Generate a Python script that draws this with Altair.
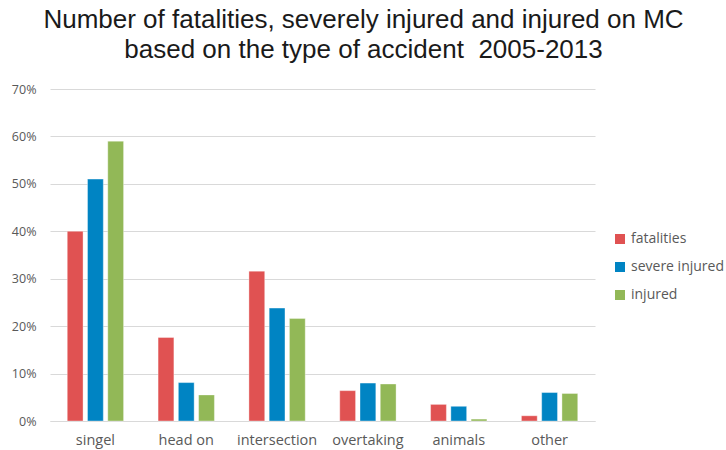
import altair as alt
import pandas as pd

# Share of each outcome by accident type (MC, 2005-2013)
categories = ["singel", "head on", "intersection", "overtaking", "animals", "other"]
series = ["fatalities", "severe injured", "injured"]
fatalities = [0.400, 0.176, 0.316, 0.064, 0.035, 0.011]
severe_injured = [0.510, 0.081, 0.238, 0.080, 0.031, 0.060]
injured = [0.590, 0.055, 0.216, 0.078, 0.004, 0.058]
colors = ["#E05252", "#0084C3", "#92B857"]

rows = []
for name, values in zip(series, [fatalities, severe_injured, injured]):
    for cat, v in zip(categories, values):
        rows.append({"type": cat, "group": name, "share": v})
df = pd.DataFrame(rows)

label_font = "Open Sans"
grey = "#595959"

chart = (
    alt.Chart(df)
    .mark_bar(stroke="white", strokeWidth=0.6, strokeOpacity=0.6)
    .encode(
        x=alt.X(
            "type:N",
            sort=categories,
            title=None,
            scale=alt.Scale(paddingInner=0.38, paddingOuter=0.19),
            axis=alt.Axis(
                labelAngle=0,
                labelFont=label_font,
                labelFontSize=14.5,
                labelColor=grey,
                labelPadding=12,
                ticks=False,
                grid=False,
                domainColor="#D9D9D9",
                domainWidth=1.2,
            ),
        ),
        xOffset=alt.XOffset(
            "group:N", sort=series, scale=alt.Scale(paddingInner=0.22)
        ),
        y=alt.Y(
            "share:Q",
            title=None,
            scale=alt.Scale(domain=[0, 0.7]),
            axis=alt.Axis(
                format=".0%",
                values=[0, 0.1, 0.2, 0.3, 0.4, 0.5, 0.6, 0.7],
                labelFont=label_font,
                labelFontSize=12.5,
                labelColor=grey,
                labelPadding=14,
                ticks=False,
                domain=False,
                gridColor="#D9D9D9",
                gridWidth=1,
            ),
        ),
        color=alt.Color(
            "group:N",
            sort=series,
            scale=alt.Scale(domain=series, range=colors),
            legend=alt.Legend(
                title=None,
                orient="none",
                legendX=563,
                legendY=143,
                symbolType="square",
                symbolSize=100,
                symbolStrokeWidth=0,
                labelFont=label_font,
                labelFontSize=14,
                labelColor=grey,
                rowPadding=14,
                labelOffset=4,
            ),
        ),
    )
    .properties(
        width=545,
        height=332,
        background="white",
        autosize=alt.AutoSizeParams(type="none"),
        padding={"left": 50, "top": 89, "right": 131, "bottom": 29},
        title=alt.TitleParams(
            text=[
                "Number of fatalities, severely injured and injured on MC",
                "based on the type of accident\u00a0\u00a02005-2013",
            ],
            font="Liberation Sans",
            fontSize=26,
            fontWeight="normal",
            color="#1a1a1a",
            anchor="middle",
            dx=41,
            offset=20,
            lineHeight=30,
        ),
    )
    .configure_view(stroke=None, strokeWidth=0)
)

chart.save("out.html", embed_options={"renderer": "svg", "actions": False})
